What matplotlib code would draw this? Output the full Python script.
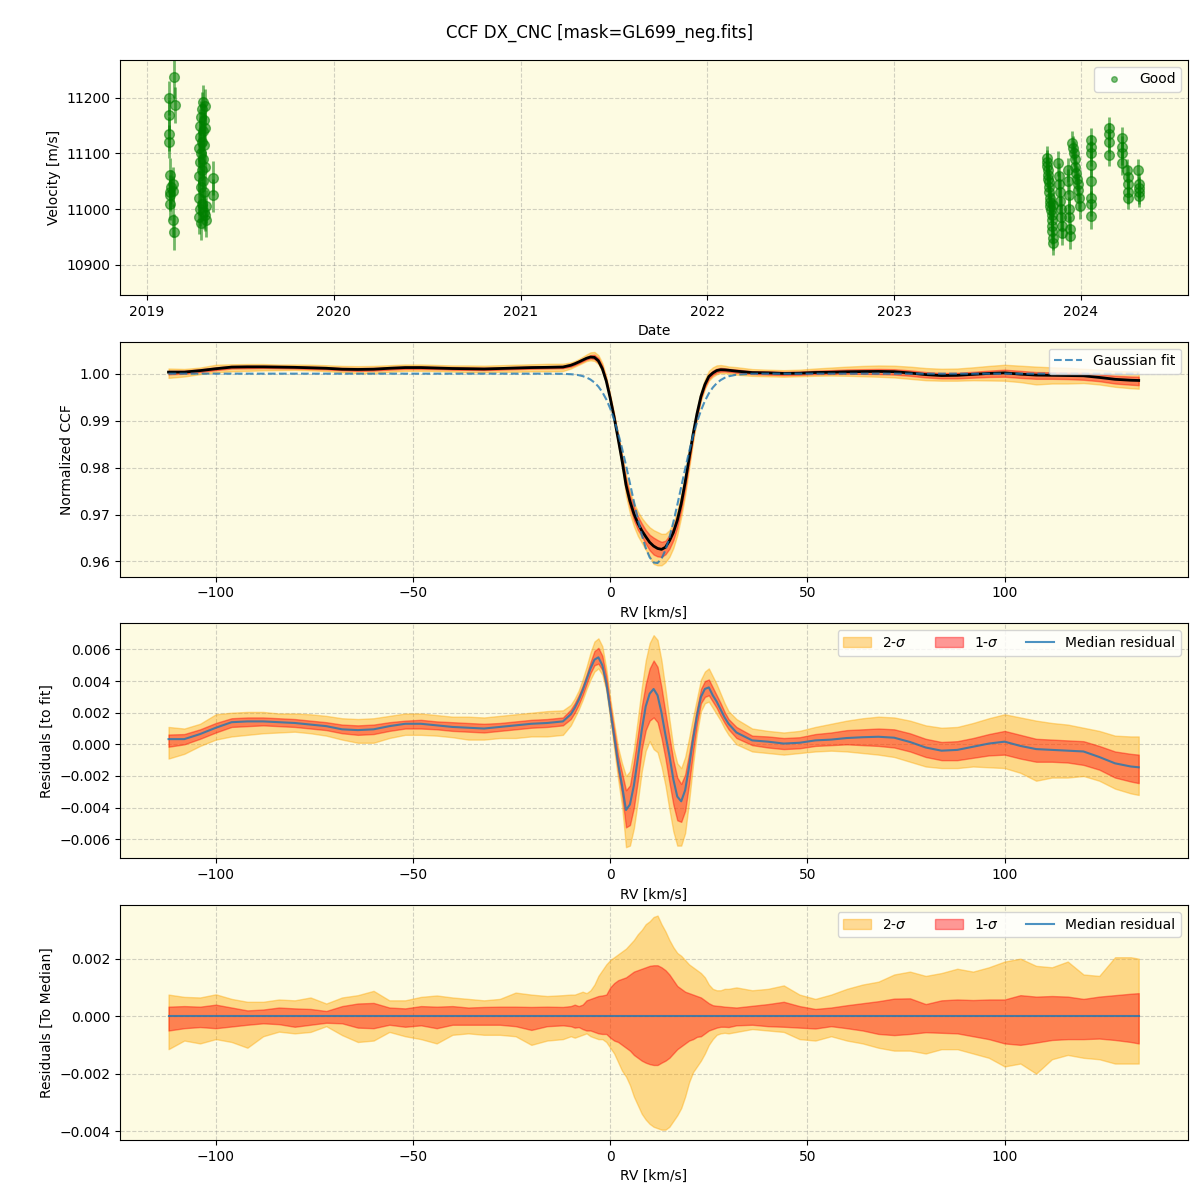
import numpy as np
import matplotlib
matplotlib.use("Agg")
import matplotlib.pyplot as plt
import matplotlib.dates as mdates
from matplotlib.lines import Line2D

# ---------------- Panel 1: RV time series ----------------
obs_dates = (
    ["2019-02-12", "2019-02-12", "2019-02-13", "2019-02-13", "2019-02-14", "2019-02-14",
     "2019-02-15", "2019-02-15", "2019-02-16", "2019-02-20", "2019-02-20", "2019-02-21",
     "2019-02-22", "2019-02-23", "2019-02-24"]
    + ["2019-04-12", "2019-04-12", "2019-04-13", "2019-04-13", "2019-04-14", "2019-04-14",
       "2019-04-15", "2019-04-15", "2019-04-16", "2019-04-16", "2019-04-17", "2019-04-17",
       "2019-04-18", "2019-04-18", "2019-04-19", "2019-04-19", "2019-04-20", "2019-04-20",
       "2019-04-21", "2019-04-21", "2019-04-22", "2019-04-22", "2019-04-23", "2019-04-23",
       "2019-04-24", "2019-04-24", "2019-04-25", "2019-04-25", "2019-04-26", "2019-04-26",
       "2019-05-10", "2019-05-10"]
    + ["2023-10-27", "2023-10-28", "2023-10-28", "2023-10-29", "2023-10-30", "2023-10-30",
       "2023-10-31", "2023-11-01", "2023-11-01", "2023-11-02", "2023-11-03", "2023-11-03",
       "2023-11-04", "2023-11-05", "2023-11-05", "2023-11-06", "2023-11-06", "2023-11-07",
       "2023-11-07", "2023-11-08"]
    + ["2023-11-18", "2023-11-19", "2023-11-20", "2023-11-21", "2023-11-22", "2023-11-23",
       "2023-11-24", "2023-11-25", "2023-11-26"]
    + ["2023-12-07", "2023-12-08", "2023-12-09", "2023-12-10", "2023-12-10", "2023-12-11",
       "2023-12-12"]
    + ["2023-12-15", "2023-12-17", "2023-12-18", "2023-12-20", "2023-12-21", "2023-12-23",
       "2023-12-24", "2023-12-26", "2023-12-27", "2023-12-29", "2023-12-31"]
    + ["2024-01-22"] * 8
    + ["2024-02-26"] * 4
    + ["2024-03-21"] * 4
    + ["2024-04-01", "2024-04-02", "2024-04-02", "2024-04-03", "2024-04-03"]
    + ["2024-04-23", "2024-04-24", "2024-04-24", "2024-04-25", "2024-04-25"]
)
obs_rv = (
    [11200, 11169, 11135, 11121, 11061, 11031, 11025, 11010, 11040, 11045, 11032, 10980,
     10959, 11238, 11187]
    + [11110, 11060, 11020, 10985, 11150, 11085, 11130, 11000, 11165, 11040, 11100, 10975,
       11180, 11070, 11120, 11010, 11140, 11090, 11193, 11050, 11160, 10995, 11115, 11030,
       11185, 11075, 10990, 11145, 11005, 10980, 11056, 11025]
    + [11091, 11085, 11078, 11070, 11062, 11055, 11048, 11040, 11030, 11020, 11012, 11005,
       10998, 10990, 10980, 10970, 10960, 10948, 10939, 11008]
    + [11082, 11060, 11045, 11030, 11015, 11000, 10985, 10970, 10957]
    + [11070, 11050, 11025, 11000, 10985, 10965, 10951]
    + [11118, 11110, 11100, 11090, 11075, 11065, 11055, 11045, 11035, 11020, 11005]
    + [11124, 11112, 11100, 11080, 11050, 11020, 11010, 10987]
    + [11145, 11135, 11120, 11097]
    + [11127, 11112, 11100, 11082]
    + [11070, 11058, 11045, 11030, 11020]
    + [11070, 11045, 11038, 11030, 11023]
)
obs_err = (
    [30, 28, 30, 30, 30, 30, 28, 30, 30, 30, 28, 30, 32, 38, 32]
    + [30] * 32
    + [22] * 20 + [22] * 9 + [22] * 7 + [22] * 11 + [22] * 8 + [20] * 4 + [20] * 4
    + [20] * 5 + [20] * 5
)

# ---------------- RV grid (km/s) ----------------
rv_grid = list(range(-112, -11, 4)) + list(range(-10, 31)) + list(range(32, 133, 4)) + [134]

# Gaussian fit parameters
fit_cont = 1.0
fit_depth = 0.0404
fit_center = 11.6
fit_sigma = 6.3

# Residuals to fit (units of 1e-3): median, 2-sigma low, 1-sigma low, 1-sigma high, 2-sigma high
res_med = ([0.33, 0.33, 0.65, 1.05, 1.4, 1.45, 1.45, 1.4, 1.35, 1.25, 1.15, 0.95, 0.9, 0.95,
            1.15, 1.3, 1.3, 1.2, 1.1, 1.05, 1.0, 1.1, 1.2, 1.3, 1.35, 1.45]
           + [1.9, 2.3, 2.8, 3.4, 4.1, 4.8, 5.35, 5.5, 5.0, 3.9, 2.2, 0.5, -1.2, -2.6, -4.15,
              -3.8, -2.6, -0.9, 0.9, 2.4, 3.2, 3.5, 3.1, 2.0, 0.6, -0.7, -2.2, -3.3, -3.6,
              -2.9, -1.4, 0.3, 1.8, 3.0, 3.5, 3.6, 3.1, 2.7, 2.2, 1.7, 1.3]
           + [0.75, 0.25, 0.17, 0.05, 0.1, 0.25, 0.3, 0.4, 0.45, 0.48, 0.42, 0.15, -0.2, -0.4,
              -0.35, -0.15, 0.05, 0.17, -0.1, -0.3, -0.35, -0.4, -0.45, -0.8, -1.2, -1.4, -1.45])
res_lo2 = ([-0.9, -0.6, -0.1, 0.3, 0.5, 0.6, 0.7, 0.75, 0.8, 0.7, 0.55, 0.3, 0.1, 0.1, 0.4,
            0.6, 0.6, 0.55, 0.45, 0.3, 0.3, 0.4, 0.4, 0.5, 0.5, 0.6]
           + [1.2, 1.7, 2.2, 2.8, 3.5, 4.1, 4.6, 4.8, 4.4, 3.4, 1.6, -0.3, -2.2, -3.9, -6.5,
              -6.4, -5.3, -3.6, -1.7, -0.4, 0.2, -0.3, -0.5, -1.4, -2.6, -4.1, -5.5, -6.4,
              -6.4, -5.6, -3.6, -1.3, 0.7, 2.1, 2.6, 2.7, 2.3, 1.9, 1.5, 1.0, 0.6]
           + [0.0, -0.45, -0.55, -0.65, -0.55, -0.45, -0.4, -0.45, -0.55, -0.65, -0.8, -1.1,
              -1.4, -1.5, -1.5, -1.4, -1.45, -1.5, -1.8, -2.3, -2.1, -2.1, -2.0, -2.3, -2.8,
              -3.1, -3.2])
res_lo1 = ([-0.15, 0.0, 0.35, 0.75, 1.1, 1.15, 1.2, 1.15, 1.1, 1.0, 0.9, 0.7, 0.6, 0.65, 0.85,
            1.0, 1.0, 0.95, 0.85, 0.8, 0.75, 0.85, 0.95, 1.05, 1.1, 1.2]
           + [1.6, 2.0, 2.5, 3.1, 3.8, 4.5, 5.0, 5.1, 4.7, 3.6, 1.9, 0.1, -1.7, -3.2, -5.25,
              -5.1, -4.0, -2.3, -0.3, 0.9, 1.5, 1.7, 1.4, 0.4, -0.9, -2.4, -3.8, -4.8, -4.9,
              -4.2, -2.5, -0.5, 1.3, 2.6, 3.0, 3.1, 2.7, 2.3, 1.8, 1.35, 0.95]
           + [0.4, -0.05, -0.2, -0.3, -0.25, -0.1, -0.05, 0.0, -0.05, -0.1, -0.2, -0.45, -0.8,
              -1.0, -1.0, -0.85, -0.7, -0.65, -0.9, -1.1, -1.1, -1.15, -1.3, -1.6, -2.1,
              -2.35, -2.45])
res_hi1 = ([0.62, 0.65, 0.95, 1.35, 1.65, 1.7, 1.7, 1.65, 1.6, 1.5, 1.4, 1.25, 1.2, 1.25, 1.4,
            1.5, 1.55, 1.45, 1.4, 1.35, 1.3, 1.35, 1.45, 1.55, 1.6, 1.7]
           + [2.2, 2.6, 3.1, 3.7, 4.4, 5.2, 5.9, 6.1, 5.6, 4.3, 2.5, 0.9, -0.7, -1.8, -2.9,
              -2.6, -1.1, 0.6, 2.4, 3.8, 4.8, 5.3, 4.9, 3.6, 2.0, 0.5, -1.0, -2.1, -2.5, -1.9,
              -0.6, 0.9, 2.3, 3.5, 4.0, 4.1, 3.6, 3.1, 2.6, 2.05, 1.6]
           + [1.1, 0.55, 0.5, 0.4, 0.45, 0.65, 0.75, 0.9, 0.95, 1.0, 0.95, 0.7, 0.35, 0.15,
              0.2, 0.4, 0.65, 0.85, 0.6, 0.35, 0.3, 0.25, 0.2, -0.1, -0.45, -0.6, -0.65])
res_hi2 = ([1.1, 1.0, 1.3, 1.9, 2.0, 2.05, 2.05, 1.95, 1.95, 1.9, 1.8, 1.65, 1.6, 1.65, 1.8,
            1.95, 1.95, 1.85, 1.75, 1.75, 1.7, 1.8, 1.9, 2.0, 2.1, 2.15]
           + [2.5, 2.9, 3.4, 4.1, 4.9, 5.8, 6.5, 6.7, 6.2, 4.8, 2.9, 1.3, -0.2, -1.2, -2.0,
              -1.7, -0.3, 1.6, 3.6, 5.3, 6.4, 6.9, 6.6, 5.3, 3.5, 1.6, -0.2, -1.2, -1.5, -0.8,
              0.4, 1.7, 2.9, 4.1, 4.6, 4.8, 4.3, 3.8, 3.2, 2.6, 2.1]
           + [1.6, 1.0, 0.85, 0.75, 0.85, 1.1, 1.3, 1.5, 1.65, 1.75, 1.7, 1.5, 1.2, 1.05, 1.1,
              1.35, 1.65, 1.9, 1.7, 1.5, 1.35, 1.25, 1.05, 0.85, 0.55, 0.5, 0.5])

# Residuals to median (units of 1e-3)
med_lo2 = ([-1.15, -0.85, -0.95, -0.8, -0.9, -1.1, -0.7, -0.54, -0.6, -0.55, -0.35, -0.66,
            -0.9, -0.85, -0.55, -0.7, -0.8, -0.95, -0.65, -0.6, -0.65, -0.65, -0.7, -1.0,
            -0.85, -0.8]
           + [-0.7, -0.75, -0.7, -0.65, -0.6, -0.7, -0.75, -0.8, -0.8, -0.9, -1.1, -1.3, -1.6,
              -1.9, -2.1, -2.4, -2.8, -3.1, -3.4, -3.6, -3.75, -3.85, -3.9, -3.95, -3.95,
              -3.85, -3.65, -3.45, -3.2, -2.8, -2.3, -1.95, -1.75, -1.55, -1.3, -1.0, -0.8,
              -0.65, -0.6, -0.58, -0.6]
           + [-0.55, -0.45, -0.5, -0.55, -0.8, -0.85, -0.7, -0.85, -0.95, -1.1, -1.2, -1.2,
              -1.3, -1.15, -1.15, -1.3, -1.45, -1.75, -1.65, -2.0, -1.5, -1.35, -1.45, -1.5,
              -1.65, -1.65, -1.65])
med_lo1 = ([-0.5, -0.42, -0.38, -0.42, -0.36, -0.3, -0.25, -0.28, -0.37, -0.3, -0.23, -0.25,
            -0.4, -0.42, -0.3, -0.37, -0.32, -0.42, -0.3, -0.3, -0.3, -0.3, -0.35, -0.48,
            -0.35, -0.32]
           + [-0.35, -0.4, -0.38, -0.45, -0.5, -0.5, -0.55, -0.6, -0.62, -0.62, -0.75, -0.85,
              -0.9, -1.0, -1.1, -1.2, -1.35, -1.45, -1.55, -1.62, -1.67, -1.7, -1.7, -1.62,
              -1.55, -1.45, -1.3, -1.15, -1.05, -0.95, -0.85, -0.8, -0.72, -0.7, -0.6, -0.5,
              -0.45, -0.4, -0.37, -0.37, -0.38]
           + [-0.32, -0.3, -0.35, -0.37, -0.4, -0.43, -0.35, -0.42, -0.5, -0.62, -0.66, -0.62,
              -0.56, -0.58, -0.6, -0.7, -0.8, -0.95, -1.0, -0.92, -0.83, -0.8, -0.8, -0.78,
              -0.83, -0.9, -0.95])
med_hi1 = ([0.33, 0.35, 0.33, 0.4, 0.3, 0.2, 0.23, 0.3, 0.27, 0.25, 0.18, 0.35, 0.44, 0.46,
            0.3, 0.27, 0.35, 0.33, 0.35, 0.3, 0.32, 0.33, 0.33, 0.32, 0.33, 0.32]
           + [0.35, 0.4, 0.35, 0.4, 0.55, 0.6, 0.65, 0.7, 0.72, 0.75, 1.0, 1.15, 1.25, 1.3,
              1.35, 1.45, 1.55, 1.6, 1.65, 1.7, 1.75, 1.77, 1.77, 1.7, 1.6, 1.45, 1.25, 1.05,
              0.95, 0.85, 0.8, 0.75, 0.7, 0.65, 0.55, 0.45, 0.38, 0.36, 0.35, 0.33, 0.32]
           + [0.3, 0.36, 0.42, 0.5, 0.35, 0.25, 0.3, 0.38, 0.45, 0.52, 0.61, 0.62, 0.42, 0.55,
              0.58, 0.56, 0.58, 0.58, 0.73, 0.68, 0.7, 0.68, 0.6, 0.68, 0.73, 0.78, 0.8])
med_hi2 = ([0.75, 0.67, 0.65, 0.76, 0.6, 0.5, 0.5, 0.58, 0.55, 0.65, 0.44, 0.65, 0.73, 0.88,
            0.55, 0.55, 0.67, 0.72, 0.65, 0.6, 0.55, 0.6, 0.82, 0.75, 0.7, 0.73]
           + [0.75, 0.75, 0.8, 0.85, 0.8, 0.9, 1.1, 1.4, 1.6, 1.8, 1.95, 2.05, 2.15, 2.25, 2.35,
              2.5, 2.65, 2.85, 3.0, 3.2, 3.3, 3.45, 3.5, 3.2, 2.95, 2.65, 2.4, 2.2, 2.1, 1.95,
              1.8, 1.7, 1.6, 1.5, 1.35, 1.1, 0.95, 0.9, 0.9, 0.95, 0.95]
           + [1.0, 0.9, 0.95, 1.07, 0.75, 0.6, 0.75, 0.95, 1.1, 1.2, 1.45, 1.55, 1.4, 1.5, 1.65,
              1.55, 1.7, 1.9, 2.0, 1.75, 1.7, 1.9, 1.45, 1.4, 2.05, 2.05, 2.0])

# ---------------- derived ----------------
SCALE = 1e-3
rv = np.array(rv_grid, dtype=float)
for arr in (res_med, res_lo2, res_lo1, res_hi1, res_hi2, med_lo2, med_lo1, med_hi1, med_hi2):
    assert len(arr) == len(rv), len(arr)
gauss = fit_cont - fit_depth * np.exp(-(rv - fit_center) ** 2 / (2 * fit_sigma ** 2))
r_med = np.array(res_med) * SCALE
r_lo2 = np.array(res_lo2) * SCALE
r_lo1 = np.array(res_lo1) * SCALE
r_hi1 = np.array(res_hi1) * SCALE
r_hi2 = np.array(res_hi2) * SCALE
m_lo2 = np.array(med_lo2) * SCALE
m_lo1 = np.array(med_lo1) * SCALE
m_hi1 = np.array(med_hi1) * SCALE
m_hi2 = np.array(med_hi2) * SCALE

C2 = "orange"
C1 = "red"
A2 = 0.4
A1 = 0.4
BLUE = "tab:blue"
BG = "#fdfbe2"

fig, axes = plt.subplots(4, 1, figsize=(12, 12), dpi=100)
fig.subplots_adjust(left=0.1, right=0.99, top=0.95, bottom=0.05, hspace=0.2)
fig.suptitle("CCF DX_CNC [mask=GL699_neg.fits]", fontsize=12, y=0.98)

for ax in axes:
    ax.set_facecolor(BG)
    ax.grid(True, linestyle="--", color="gray", alpha=0.35)
    ax.set_axisbelow(True)

# Panel 1
ax = axes[0]
dates = np.array(obs_dates, dtype="datetime64[D]")
ax.errorbar(dates, obs_rv, yerr=obs_err, fmt="o", color="green", alpha=0.55,
            ms=7, elinewidth=2, capsize=0)
ax.set_ylabel("Velocity [m/s]")
ax.set_xlabel("Date")
ax.xaxis.set_major_locator(mdates.YearLocator())
ax.xaxis.set_major_formatter(mdates.DateFormatter("%Y"))
ax.set_ylim(10846, 11268)
ax.set_yticks([10900, 11000, 11100, 11200])
good = Line2D([], [], marker="o", ls="", color="green", alpha=0.5, ms=4, label="Good")
ax.legend(handles=[good], loc="upper right")

# Panel 2
ax = axes[1]
ax.fill_between(rv, gauss + r_lo2, gauss + r_hi2, color=C2, alpha=A2)
ax.fill_between(rv, gauss + r_lo1, gauss + r_hi1, color=C1, alpha=A1)
ax.plot(rv, gauss + r_med, color="black", lw=2)
ax.plot(rv, gauss, color=BLUE, ls="--", lw=1.5, alpha=0.8, label="Gaussian fit")
ax.set_ylabel("Normalized CCF")
ax.set_xlabel("RV [km/s]")
ax.set_ylim(0.9568, 1.0068)
ax.legend(loc="upper right")

# Panel 3
ax = axes[2]
ax.fill_between(rv, r_lo2, r_hi2, color=C2, alpha=A2, label="2-$\\sigma$")
ax.fill_between(rv, r_lo1, r_hi1, color=C1, alpha=A1, label="1-$\\sigma$")
ax.plot(rv, r_med, color=BLUE, lw=1.5, alpha=0.8, label="Median residual")
ax.set_ylabel("Residuals [to fit]")
ax.set_xlabel("RV [km/s]")
ax.set_ylim(-0.0072, 0.00764)
ax.legend(loc="upper right", ncol=3)

# Panel 4
ax = axes[3]
ax.fill_between(rv, m_lo2, m_hi2, color=C2, alpha=A2, label="2-$\\sigma$")
ax.fill_between(rv, m_lo1, m_hi1, color=C1, alpha=A1, label="1-$\\sigma$")
ax.plot(rv, np.zeros_like(rv), color=BLUE, lw=1.5, alpha=0.8, label="Median residual")
ax.set_ylabel("Residuals [To Median]")
ax.set_xlabel("RV [km/s]")
ax.set_ylim(-0.00431, 0.00386)
ax.legend(loc="upper right", ncol=3)

for ax in axes[1:]:
    ax.set_xlim(-124.3, 146.5)

fig.savefig("out.png", dpi=100)
